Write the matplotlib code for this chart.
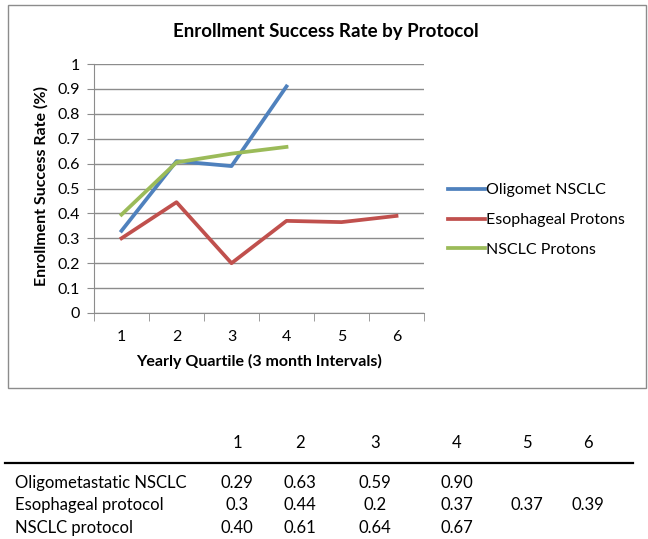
import matplotlib.pyplot as plt
import numpy as np
from matplotlib.patches import Rectangle
from matplotlib.ticker import FuncFormatter

# chart data
quartiles = [1, 2, 3, 4, 5, 6]
oligomet = [0.33, 0.61, 0.59, 0.91]
esophageal = [0.30, 0.445, 0.20, 0.37, 0.365, 0.39]
nsclc = [0.395, 0.605, 0.64, 0.667]
series_names = ['Oligomet NSCLC', 'Esophageal Protons', 'NSCLC Protons']

# table below the chart
table_rows = ['Oligometastatic NSCLC', 'Esophageal protocol', 'NSCLC protocol']
table_vals = [
    ['0.29', '0.63', '0.59', '0.90', '', ''],
    ['0.3', '0.44', '0.2', '0.37', '0.37', '0.39'],
    ['0.40', '0.61', '0.64', '0.67', '', ''],
]


def main():
    plt.rcParams['font.family'] = ['Lato', 'DejaVu Sans']
    W, H = 648, 539
    fig = plt.figure(figsize=(W / 100, H / 100), dpi=100)

    # chart border
    fig.patches.append(Rectangle((8 / W, 1 - 388 / H), 638 / W, 383 / H,
                                 transform=fig.transFigure, fill=False,
                                 edgecolor='#8c8c8c', lw=1))

    ax = fig.add_axes([94 / W, 1 - 313 / H, 330 / W, 249 / H])
    colors = ['#4F81BD', '#C0504D', '#9BBB59']
    ax.plot(quartiles[:len(oligomet)], oligomet, color=colors[0], lw=2.7, label=series_names[0])
    ax.plot(quartiles[:len(esophageal)], esophageal, color=colors[1], lw=2.7, label=series_names[1])
    ax.plot(quartiles[:len(nsclc)], nsclc, color=colors[2], lw=2.7, label=series_names[2])

    ax.set_xlim(0.5, 6.5)
    ax.set_ylim(0, 1)
    ax.set_yticks(np.arange(0, 1.01, 0.1))
    ax.yaxis.set_major_formatter(FuncFormatter(lambda v, p: '%g' % round(v, 1)))
    ax.grid(axis='y', color='#8c8c8c', lw=1)
    ax.set_axisbelow(True)

    ax.set_xticks(quartiles)
    ax.set_xticks(np.arange(0.5, 7, 1), minor=True)
    ax.tick_params(axis='x', which='major', length=0, pad=12, labelsize=11.5)
    ax.tick_params(axis='x', which='minor', length=6, color='#8c8c8c', direction='out')
    ax.tick_params(axis='y', length=5, color='#8c8c8c', pad=5, labelsize=11.5)

    for s in ['top', 'right']:
        ax.spines[s].set_visible(False)
    ax.spines['left'].set_color('#8c8c8c')
    ax.spines['bottom'].set_color('#8c8c8c')

    ax.set_xlabel('Yearly Quartile (3 month Intervals)', fontsize=11.5, fontweight='bold')
    ax.xaxis.set_label_coords(0.5, -(354 - 313) / 249, transform=ax.transAxes)
    ax.set_ylabel('Enrollment Success Rate (%)', fontsize=11.5, fontweight='bold')
    ax.yaxis.set_label_coords(-(94 - 49) / 330, (313 - 186) / 249, transform=ax.transAxes)
    fig.text(326 / W, 1 - 31 / H, 'Enrollment Success Rate by Protocol',
             ha='center', va='center', fontsize=13.5, fontweight='bold')

    fig.legend(loc='center left', bbox_to_anchor=(448 / W, 1 - 220 / H),
               bbox_transform=fig.transFigure, frameon=False, fontsize=11.5,
               handlelength=2.3, handletextpad=0.1, labelspacing=0.98,
               borderpad=0, borderaxespad=0)

    # table
    col_x = [237, 300, 375, 457, 527, 588]
    row_y = [483, 505, 528]
    fs = 12
    for i, x in enumerate(col_x):
        fig.text(x / W, 1 - 443 / H, str(quartiles[i]), ha='center', va='center', fontsize=fs)
    fig.add_artist(plt.Line2D([5 / W, 633 / W], [1 - 463 / H, 1 - 463 / H],
                              transform=fig.transFigure, color='black', lw=1.6))
    for r, name in enumerate(table_rows):
        y = 1 - row_y[r] / H
        fig.text(15 / W, y, name, ha='left', va='center', fontsize=fs)
        for c, v in enumerate(table_vals[r]):
            if v:
                fig.text(col_x[c] / W, y, v, ha='center', va='center', fontsize=fs)

    fig.savefig('out.png', dpi=100)


if __name__ == "__main__":
    main()
